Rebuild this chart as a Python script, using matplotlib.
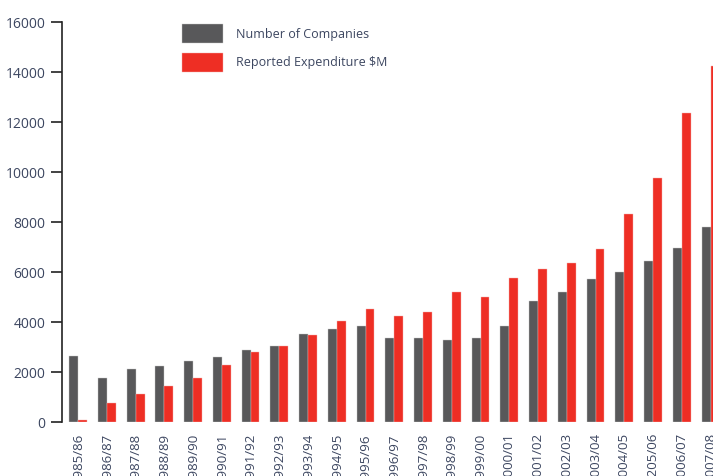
import matplotlib.pyplot as plt
import numpy as np
from matplotlib.patches import Patch

years = [
    "1985/86", "1986/87", "1987/88", "1988/89", "1989/90", "1990/91",
    "1991/92", "1992/93", "1993/94", "1994/95", "1995/96", "1996/97",
    "1997/98", "1998/99", "1999/00", "2000/01", "2001/02", "2002/03",
    "2003/04", "2004/05", "2205/06", "2006/07", "2007/08",
]
companies = [
    2640, 1750, 2110, 2230, 2430, 2590, 2890, 3050, 3520, 3730, 3830, 3360,
    3360, 3270, 3360, 3830, 4830, 5190, 5710, 6010, 6430, 6970, 7790,
]
expenditure = [
    100, 750, 1110, 1430, 1750, 2270, 2790, 3050, 3470, 4030, 4510, 4240,
    4410, 5190, 4990, 5760, 6120, 6370, 6910, 8310, 9770, 12370, 14230,
]

GRAY = "#58585a"
RED = "#ee2e24"
TEXT = "#3c4660"

W, H = 713, 476
fig = plt.figure(figsize=(W / 100, H / 100), dpi=100)
plt.rcParams["font.family"] = ["Open Sans", "DejaVu Sans"]

# axes runs past the right edge, as in the source (last bar is cut off)
ax = fig.add_axes([62 / W, 54 / H, 660 / W, 400 / H])

x = np.arange(len(years))
width = 0.31
ax.bar(x - width / 2, companies, width, color=GRAY, edgecolor="#c8c8c8", linewidth=0.3)
ax.bar(x + width / 2, expenditure, width, color=RED, edgecolor="#f4b0ac", linewidth=0.3)

ax.set_xlim(-0.56, 22.4)
ax.set_ylim(0, 16000)
ax.set_yticks(np.arange(0, 16001, 2000))
ax.set_xticks(x)
ax.set_xticklabels(years, rotation=90, fontsize=9.5, color=TEXT)
ax.tick_params(axis="x", length=0, pad=8)
ax.tick_params(axis="y", length=8, width=1.2, color="#222222", labelsize=10,
               labelcolor=TEXT, pad=4)

for side in ["top", "right", "bottom"]:
    ax.spines[side].set_visible(False)
ax.spines["left"].set_linewidth(1.2)
ax.spines["left"].set_color("#222222")

handles = [
    Patch(facecolor=GRAY, edgecolor="#c8c8c8", linewidth=0.3),
    Patch(facecolor=RED, edgecolor="#f4b0ac", linewidth=0.3),
]
fig.legend(
    handles,
    ["Number of Companies", "Reported Expenditure $M"],
    loc="upper left",
    bbox_to_anchor=(182 / W, 1 - 24 / H),
    bbox_transform=fig.transFigure,
    frameon=False,
    fontsize=9,
    labelcolor=TEXT,
    handlelength=3.3,
    handleheight=2.0,
    handletextpad=1.0,
    labelspacing=0.75,
    borderpad=0,
    borderaxespad=0,
)

fig.savefig("out.png", dpi=100)
